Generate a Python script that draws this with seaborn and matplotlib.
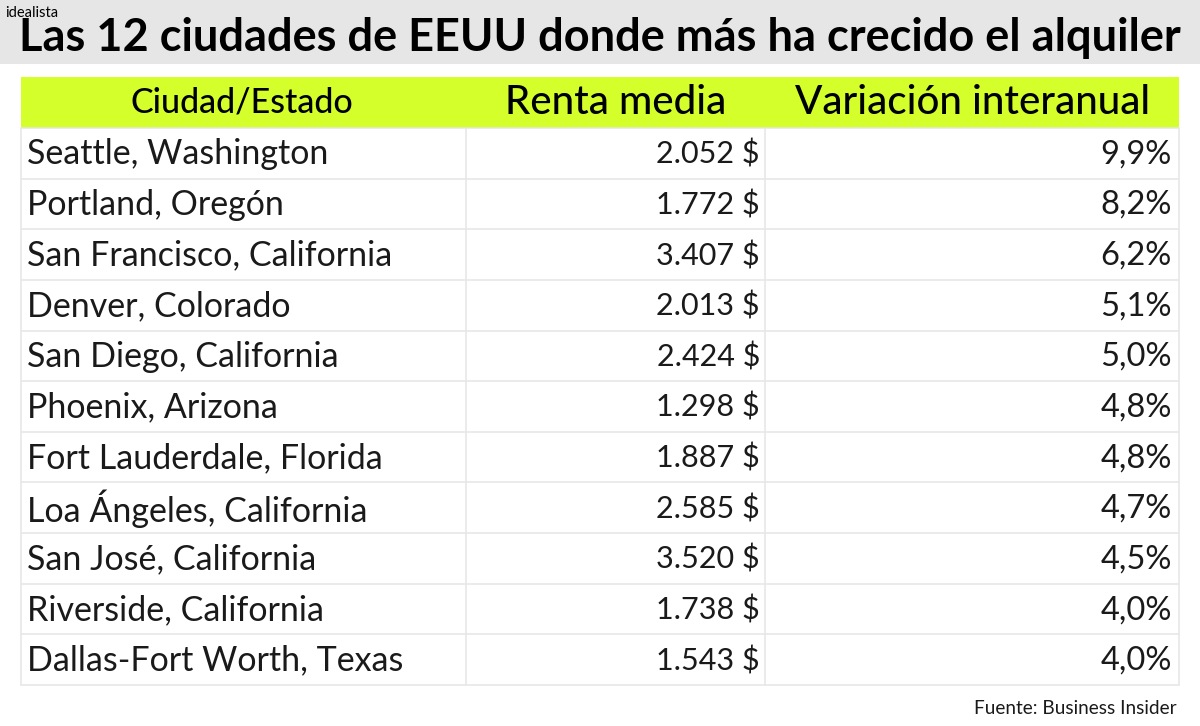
import matplotlib
matplotlib.use("Agg")
import matplotlib.pyplot as plt
import seaborn as sns
import pandas as pd
import numpy as np

sns.set_theme(style="white")
plt.rcParams['font.family'] = ['Lato', 'DejaVu Sans']

title = "Las 12 ciudades de EEUU donde más ha crecido el alquiler"
headers = ["Ciudad/Estado", "Renta media", "Variación interanual"]
cities = ["Seattle, Washington", "Portland, Oregón", "San Francisco, California", "Denver, Colorado",
          "San Diego, California", "Phoenix, Arizona", "Fort Lauderdale, Florida", "Loa Ángeles, California",
          "San José, California", "Riverside, California", "Dallas-Fort Worth, Texas"]
rents = ["2.052 $", "1.772 $", "3.407 $", "2.013 $", "2.424 $", "1.298 $", "1.887 $", "2.585 $", "3.520 $", "1.738 $", "1.543 $"]
changes = ["9,9%", "8,2%", "6,2%", "5,1%", "5,0%", "4,8%", "4,8%", "4,7%", "4,5%", "4,0%", "4,0%"]
source = "Fuente: Business Insider"
brand = "idealista"

W, H = 1200, 726
fig = plt.figure(figsize=(W/100, H/100), dpi=100, facecolor="white")
ax = fig.add_axes([0, 0, 1, 1], zorder=2)
ax.set_xlim(0, W); ax.set_ylim(H, 0); ax.axis("off")

x_edges = np.array([21, 466, 765, 1179])
top, row_h = 128, (685-128)/len(cities)
tbl_ax = fig.add_axes([x_edges[0]/W, 1-685/H, (x_edges[-1]-x_edges[0])/W, (685-top)/H], zorder=1)
df = pd.DataFrame({"c": 0, "r": 0, "v": 0}, index=cities)
sns.heatmap(df, ax=tbl_ax, cmap=["white"], cbar=False, linewidths=0, xticklabels=False, yticklabels=False)
tbl_ax.axis("off")

ax.add_patch(plt.Rectangle((0, 0), W, 64, color="#e6e6e6", lw=0))
ax.add_patch(plt.Rectangle((21, 77), 1158, 51, color="#d4ff2a", lw=0))
line = "#e6e6e6"
for i in range(len(cities)+1):
    ax.plot([21, 1179], [top+i*row_h]*2, color=line, lw=1.1)
for x in x_edges:
    ax.plot([x, x], [top, 685], color=line, lw=1.1)

ax.text(600, 38, title, ha="center", va="center", fontsize=32.5, fontweight="bold", color="black")
ax.text(5, 13, brand, ha="left", va="center", fontsize=10.5, color="black")
for cx, h, fs in zip([242, 616, 973], headers, [24.5, 29, 29]):
    ax.text(cx, 103, h, ha="center", va="center", fontsize=fs, fontweight="medium", color="black")
for i, (c, r, v) in enumerate(zip(cities, rents, changes)):
    y = top + (i+0.5)*row_h + 1
    ax.text(27, y, c, ha="left", va="center", fontsize=24.5, color="#1a1a1a")
    ax.text(760, y, r, ha="right", va="center", fontsize=22, color="#1a1a1a")
    ax.text(1172, y, v, ha="right", va="center", fontsize=23.5, color="#1a1a1a")
ax.text(1177, 708, source, ha="right", va="center", fontsize=13.7, color="#1a1a1a")
fig.savefig("out.png", dpi=100)
